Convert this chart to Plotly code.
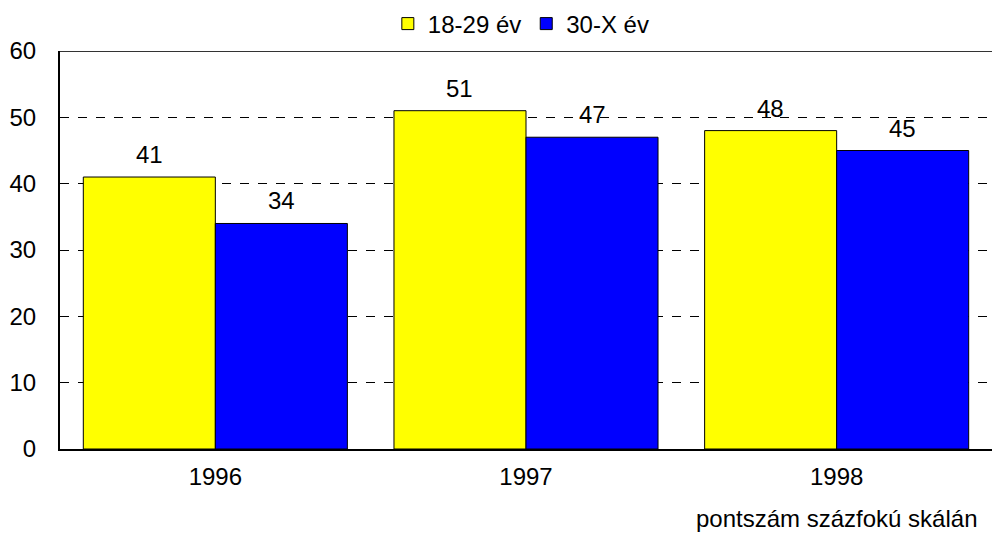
import plotly.graph_objects as go

years = ["1996", "1997", "1998"]
young = [41, 51, 48]
older = [34, 47, 45]
series_names = ["18-29 év", "30-X év"]
y_ticks = [0, 10, 20, 30, 40, 50, 60]
note = "pontszám százfokú skálán"

FONT = "Liberation Sans, Arial, sans-serif"
FS = 24
BARGAP = 0.15
bar_w = (1 - BARGAP) / 2

fig = go.Figure()
fig.add_trace(go.Bar(x=years, y=young, name=series_names[0],
                     marker=dict(color="#FFFF00", line=dict(color="#000000", width=1))))
fig.add_trace(go.Bar(x=years, y=older, name=series_names[1],
                     marker=dict(color="#0000FF", line=dict(color="#000000", width=1))))

annotations = []
for offset, vals in ((-bar_w / 2, young), (bar_w / 2, older)):
    for i, v in enumerate(vals):
        annotations.append(dict(x=i + offset, y=v, xref="x", yref="y", text=str(v),
                                showarrow=False, yanchor="bottom", yshift=7,
                                font=dict(size=FS, color="#000000")))
annotations.append(dict(text=note, xref="paper", yref="paper", x=0.986, y=-0.174,
                        xanchor="right", yanchor="middle", showarrow=False,
                        font=dict(size=FS)))

fig.update_layout(
    width=992, height=534,
    margin=dict(l=60, r=0, t=51, b=85),
    paper_bgcolor="white", plot_bgcolor="white",
    font=dict(family=FONT, size=FS, color="#000000"),
    barmode="group", bargap=BARGAP, bargroupgap=0,
    showlegend=True,
    legend=dict(orientation="h", x=0.495, xanchor="center",
                yref="container", y=1 - 24 / 534, yanchor="middle",
                font=dict(size=FS), traceorder="normal",
                bgcolor="rgba(0,0,0,0)", itemwidth=30),
    xaxis=dict(type="category", showline=True, linecolor="#000000", linewidth=2,
               ticks="", showgrid=False, tickfont=dict(size=FS), automargin=False,
               ticklabelstandoff=5, range=[-0.5, len(years) - 0.5]),
    yaxis=dict(range=[0, 60], tickvals=y_ticks, showline=True, linecolor="#000000",
               linewidth=2, showgrid=True, gridcolor="#000000", griddash="dash",
               gridwidth=1, ticks="", ticklabelstandoff=17, tickfont=dict(size=FS),
               zeroline=False, automargin=False),
    shapes=[dict(type="line", xref="paper", yref="y", x0=0, x1=1,
                 y0=y_ticks[-1], y1=y_ticks[-1], line=dict(color="#333333", width=2))],
    annotations=annotations,
)

fig.write_html("out.html", config={"displayModeBar": False},
               post_script="document.body.style.margin='0';document.body.style.overflow='hidden';")
